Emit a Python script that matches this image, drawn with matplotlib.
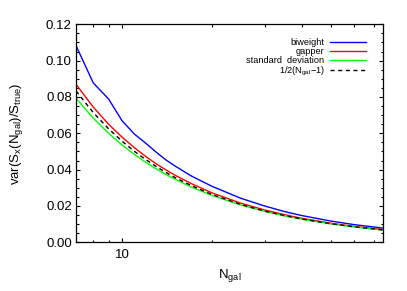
import numpy as np
import matplotlib
matplotlib.use('Agg')
import matplotlib.pyplot as plt
from matplotlib.ticker import FixedLocator, NullFormatter

plt.rcParams['font.family'] = ['Liberation Sans', 'DejaVu Sans']
plt.rcParams['mathtext.default'] = 'regular'

# values
n_gal = [7, 8, 9, 10, 11, 12, 13, 14, 15, 17, 20, 25, 30, 35, 40, 50, 60, 75]
biweight = [0.1083, 0.0877, 0.0789, 0.0668, 0.0595, 0.0545, 0.0496, 0.0454, 0.0421,
            0.0366, 0.0308, 0.0242, 0.0200, 0.0169, 0.0147, 0.0117, 0.0097, 0.0078]
gapper = [0.0870, 0.0744, 0.0650, 0.0578, 0.0520, 0.0472, 0.0432, 0.0399, 0.0370,
          0.0324, 0.0272, 0.0215, 0.0178, 0.0152, 0.0132, 0.0105, 0.0087, 0.0070]
std_dev = [0.0793, 0.0683, 0.0600, 0.0535, 0.0483, 0.0440, 0.0404, 0.0374, 0.0348,
           0.0305, 0.0258, 0.0205, 0.0170, 0.0145, 0.0127, 0.0101, 0.0084, 0.0067]
theory = [0.0833, 0.0714, 0.0625, 0.0556, 0.0500, 0.0455, 0.0417, 0.0385, 0.0357,
          0.0313, 0.0263, 0.0208, 0.0172, 0.0147, 0.0128, 0.0102, 0.0085, 0.0068]

fig = plt.figure(figsize=(4.07, 2.91), dpi=100)
ax = fig.add_axes([0.1867, 0.1674, 0.7551, 0.7491])

ax.plot(n_gal, biweight, color='#0000ff', lw=1, label='biweight')
ax.plot(n_gal, gapper, color='#ff0000', lw=1, label='gapper')
ax.plot(n_gal, std_dev, color='#00ff00', lw=1, label='standard  deviation')
ax.plot(n_gal, theory, color='black', lw=1, ls=(0, (3, 2.5)), label='1/2(N$_{gal}$\u22121)')

ax.set_xscale('log')
ax.set_xlim(7, 75)
ax.set_ylim(0, 0.12)

ax.xaxis.set_major_locator(FixedLocator([10]))
ax.set_xticklabels(['10'])
ax.xaxis.set_minor_locator(FixedLocator([8, 9, 20, 30, 40, 50, 60, 70]))
ax.xaxis.set_minor_formatter(NullFormatter())
ax.set_yticks([0, 0.02, 0.04, 0.06, 0.08, 0.10, 0.12])
ax.set_yticklabels(['0.00', '0.02', '0.04', '0.06', '0.08', '0.10', '0.12'])
ax.yaxis.set_minor_locator(FixedLocator(np.arange(0, 0.1201, 0.005)))

ax.tick_params(which='both', direction='in', top=True, right=True, width=0.8, labelsize=9.5)
ax.tick_params(which='major', length=3.2)
ax.tick_params(which='minor', length=1.8)
ax.tick_params(axis='x', pad=5)
ax.tick_params(axis='y', pad=3)
for s in ax.spines.values():
    s.set_linewidth(0.9)

ax.set_xlabel('N$_{gal}$', fontsize=9.5)
ax.xaxis.set_label_coords(0.5, -0.115)
ax.set_ylabel('var(S$_x$(N$_{gal}$)/S$_{true}$)', fontsize=9.5)
ax.yaxis.set_label_coords(-0.165, 0.5)

ax.legend(loc='upper right', frameon=False, markerfirst=False, fontsize=6.6,
          handlelength=3.9, handletextpad=0.6, labelspacing=0.0,
          borderaxespad=0.0, bbox_to_anchor=(0.955, 0.955))

fig.savefig('out.png', dpi=100)
